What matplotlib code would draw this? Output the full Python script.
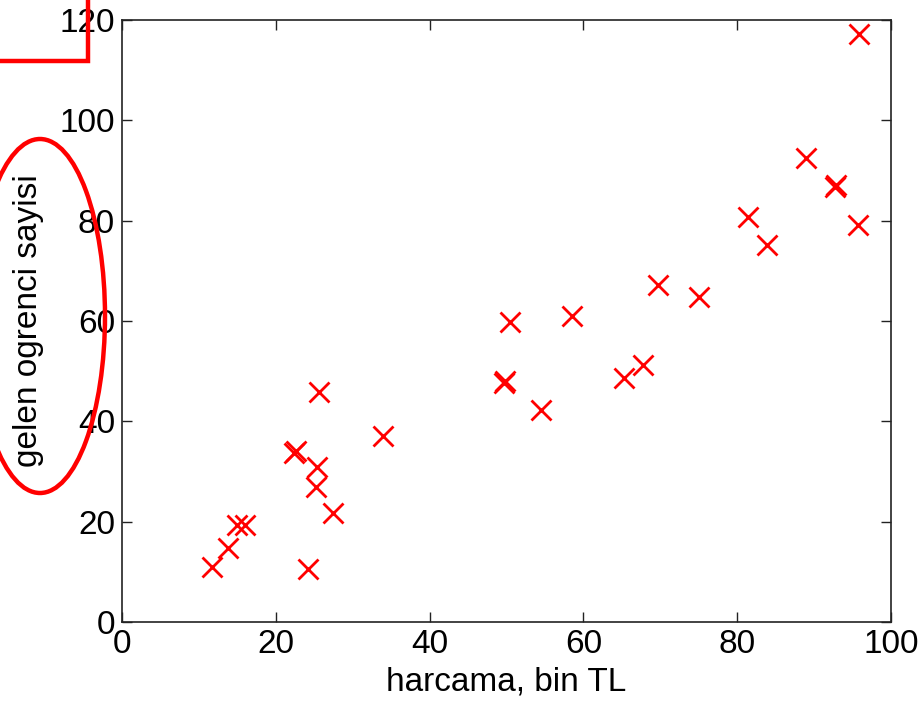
import matplotlib.pyplot as plt
from matplotlib.patches import Ellipse, Rectangle

plt.rcParams['font.family'] = ['Liberation Sans', 'DejaVu Sans']

# harcama (bin TL) vs gelen ogrenci sayisi
harcama = [11.7, 13.8, 15.0, 16.0, 22.4, 22.6, 25.6, 25.4, 25.2, 27.4, 24.2,
           33.9, 49.7, 49.8, 50.5, 54.5, 58.5, 65.3, 67.8, 69.7, 75.0, 81.4,
           83.9, 88.9, 92.7, 92.8, 95.7, 95.8]
ogrenci = [11.0, 14.7, 19.3, 19.3, 33.6, 34.0, 45.8, 30.9, 26.9, 21.7, 10.6,
           37.1, 47.7, 48.1, 59.8, 42.3, 61.0, 48.6, 51.2, 67.2, 64.8, 80.7,
           75.1, 92.5, 86.7, 87.1, 79.1, 117.2]

x_ticks = [0, 20, 40, 60, 80, 100]
y_ticks = [0, 20, 40, 60, 80, 100, 120]

fig = plt.figure(figsize=(9.22, 7.06), dpi=100)
ax = fig.add_axes([0.1323, 0.119, 0.834, 0.853])

ax.plot(harcama, ogrenci, 'x', color='red', markersize=14, markeredgewidth=2)

ax.set_xlim(0, 100)
ax.set_ylim(0, 120)
ax.set_xticks(x_ticks)
ax.set_yticks(y_ticks)
ax.tick_params(direction='in', length=7, width=1, top=True, right=True,
               labelsize=24, pad=5, color='#222222')
for s in ax.spines.values():
    s.set_linewidth(1.2)
    s.set_color('#222222')

ax.set_xlabel('harcama, bin TL', fontsize=24, labelpad=5)
ax.set_ylabel('gelen ogrenci sayisi', fontsize=24)
ax.yaxis.set_label_coords(-0.101, 0.5)

# red annotations drawn over the figure
fig.add_artist(Rectangle((-0.2, 6.45), 1.08, 0.8, fill=False, edgecolor='red',
                         linewidth=3.2, transform=fig.dpi_scale_trans, clip_on=False))
fig.add_artist(Ellipse((0.40, 3.90), 1.30, 3.54, fill=False, edgecolor='red',
                       linewidth=3.2, transform=fig.dpi_scale_trans, clip_on=False))

fig.savefig('out.png', dpi=100)
